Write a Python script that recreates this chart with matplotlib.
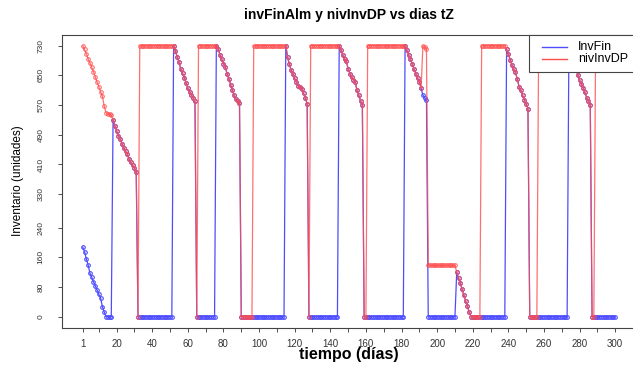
import numpy as np
import matplotlib
matplotlib.use("Agg")
import matplotlib.pyplot as plt
from matplotlib.patches import Rectangle
from matplotlib.lines import Line2D

plt.rcParams['font.family'] = ['Liberation Sans', 'DejaVu Sans']

# days of the simulation
dias = np.arange(1, 301)

# descending stretches that both series share
baja_18_31 = [530, 515, 500, 488, 478, 466, 455, 446, 437, 425, 416, 408, 400, 391]
baja_52_64 = [730, 716, 700, 686, 668, 656, 644, 630, 615, 606, 597, 589, 580]
baja_76_89 = [730, 722, 706, 694, 682, 672, 655, 641, 625, 610, 596, 586, 580, 576]
baja_115_127 = [730, 700, 680, 664, 654, 642, 632, 622, 618, 614, 602, 588, 574]
baja_145_158 = [730, 718, 705, 694, 688, 668, 655, 646, 639, 631, 610, 596, 582, 570]
baja_182_191 = [730, 718, 705, 693, 682, 666, 655, 643, 633, 615]
baja_211_218 = [120, 104, 90, 74, 58, 42, 28, 12]
baja_239_251 = [720, 708, 692, 678, 667, 658, 640, 620, 610, 596, 584, 573, 560]
baja_274_286 = [730, 716, 700, 684, 666, 652, 637, 627, 617, 604, 590, 580, 570]

# InvFin (blue)
inv_fin_1_13 = [187, 175, 155, 139, 117, 106, 94, 83, 72, 60, 50, 27, 13]
inv_fin_192_194 = [597, 590, 584]
inv_fin = (inv_fin_1_13 + [0] * 4 + baja_18_31 + [0] * 20 + baja_52_64 + [0] * 11
           + baja_76_89 + [0] * 25 + baja_115_127 + [0] * 17 + baja_145_158
           + [0] * 23 + baja_182_191 + inv_fin_192_194 + [0] * 16 + baja_211_218
           + [0] * 20 + baja_239_251 + [0] * 22 + baja_274_286 + [0] * 14)

# nivInvDP (red)
niv_1_17 = [730, 720, 708, 695, 684, 672, 660, 646, 632, 620, 606, 594, 568, 550, 546, 545, 543]
niv_192_194 = [730, 726, 722]
niv_inv_dp = (niv_1_17 + baja_18_31 + [0] + [730] * 19 + baja_52_64 + [0] + [730] * 10
              + baja_76_89 + [0] * 7 + [730] * 18 + baja_115_127 + [0] + [730] * 16
              + baja_145_158 + [0] * 2 + [730] * 21 + baja_182_191 + niv_192_194
              + [138] * 16 + baja_211_218 + [0] * 6 + [730] * 14 + baja_239_251
              + [0] * 5 + [730] * 17 + baja_274_286 + [0] * 2 + [730] * 12)

y_ticks = [0, 80, 160, 240, 330, 410, 490, 570, 650, 730]
x_ticks = [1] + list(range(10, 301, 10))
x_labels = [str(t) if (t == 1 or t % 20 == 0) else '' for t in x_ticks]

azul = (0.3, 0.3, 1.0)
rojo = (1.0, 0.3, 0.3)

W, H = 633, 367
fig = plt.figure(figsize=(W / 100, H / 100), dpi=100)
ax = fig.add_axes([61.5 / W, 39.5 / H, 575 / W, 292.6 / H])

# plot both series, lines with open circle markers
ax.plot(dias, inv_fin, color=azul, lw=0.9, marker='o', ms=2.6,
        mfc='none', mew=0.8, label='InvFin')
ax.plot(dias, niv_inv_dp, color=rojo, lw=0.9, marker='o', ms=2.6,
        mfc='none', mew=0.8, alpha=0.8, label='nivInvDP')

ax.set_xlim(1 - 0.04 * 299, 300 + 0.04 * 299)
ax.set_ylim(-0.04 * 730, 730 * 1.04)

ax.set_xticks(x_ticks)
ax.set_xticklabels(x_labels, fontsize=7)
ax.set_yticks(y_ticks)
ax.set_yticklabels([str(t) for t in y_ticks], fontsize=6, rotation=90, va='center')
ax.tick_params(axis='x', length=3, width=0.6, pad=5, colors='#333333')
ax.tick_params(axis='y', length=3, width=0.6, pad=9, colors='#333333')
for s in ax.spines.values():
    s.set_linewidth(0.8)
    s.set_color('#444444')

# legend box drawn by hand (R style, top right, partly cut off)
def px(x, y):
    return x / W, 1 - y / H

x0, y0 = px(529.3, 72.3)
fig.add_artist(Rectangle((x0, y0), (640 - 529.3) / W, (72.3 - 35) / H,
                         transform=fig.transFigure, facecolor='white',
                         edgecolor='#444444', lw=0.8, zorder=5))
for yy, col, txt in [(46.7, azul, 'InvFin'), (59.3, rojo, 'nivInvDP')]:
    xa, ya = px(541.7, yy)
    xb, _ = px(566.7, yy)
    fig.add_artist(Line2D([xa, xb], [ya, ya], transform=fig.transFigure,
                          color=col, lw=1.0, zorder=6))
    xt, _ = px(578, yy)
    fig.text(xt, ya, txt, fontsize=9, ha='left', va='center', zorder=6)

fig.text(349 / W, 1 - 15 / H, 'invFinAlm y nivInvDP vs dias tZ', fontsize=10,
         fontweight='bold', ha='center', va='center')
fig.text(349 / W, 1 - 355 / H, 'tiempo (días)', fontsize=11.5,
         fontweight='bold', ha='center', va='center')
fig.text(18 / W, 1 - 181 / H, 'Inventario (unidades)', fontsize=8.5,
         rotation=90, ha='center', va='center')

fig.savefig('out.png', dpi=100)
